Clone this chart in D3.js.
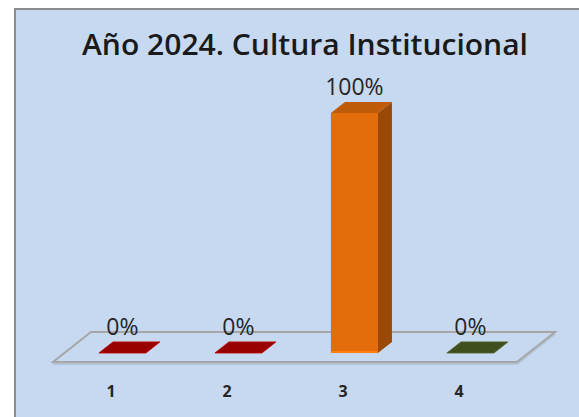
<!DOCTYPE html>
<html>
<head>
<meta charset="utf-8">
<script src="https://cdn.jsdelivr.net/npm/d3@7"></script>
<style>
  body { margin: 0; background: #ffffff; }
  svg { display: block; }
</style>
</head>
<body>
<script>
// datos del grafico
var categorias = ["1", "2", "3", "4"];
var valores = [0, 0, 100, 0];
var etiquetas = ["0%", "0%", "100%", "0%"];
var colores = ["#990000", "#990000", "#e46c0a", "#3f4f1d"];
var titulo = "Año 2024. Cultura Institucional";

var width = 579, height = 417;

var svg = d3.select("body").append("svg")
    .attr("width", width).attr("height", height);

// fondo y borde
svg.append("rect").attr("x", 14).attr("y", 8)
    .attr("width", width - 14).attr("height", height - 8)
    .attr("fill", "#c6d9f0");
svg.append("path").attr("d", "M15,417 V9 H579")
    .attr("fill", "none").attr("stroke", "#8c8c8c").attr("stroke-width", 2);

// titulo
svg.append("text").attr("x", 305).attr("y", 55)
    .attr("text-anchor", "middle")
    .attr("font-family", "Open Sans, sans-serif").attr("font-weight", 600)
    .attr("font-size", 29).attr("fill", "#1a1a1a")
    .attr("textLength", 446).attr("lengthAdjust", "spacingAndGlyphs")
    .text(titulo);

// escalas
var floorY = 362;
var depthX = 38, depthY = -30;

var x = d3.scaleBand().domain(categorias).range([53, 517]);
var y = d3.scaleLinear().domain([0, 100]).range([floorY, 122]);

// posicion en profundidad de las barras
var dFront = 0.3, dBack = 0.67;
var barW = 47;

// piso
var floor = svg.append("g");
floor.append("path")
    .attr("d", "M" + x.range()[0] + "," + (floorY + 2) + " H" + x.range()[1] +
        " L" + (x.range()[1] + depthX) + "," + (floorY + depthY + 2))
    .attr("fill", "none").attr("stroke", "#b4c3d6").attr("stroke-width", 2);
floor.append("path")
    .attr("d", "M" + x.range()[0] + "," + floorY +
        " L" + (x.range()[0] + depthX) + "," + (floorY + depthY) +
        " H" + (x.range()[1] + depthX) +
        " L" + x.range()[1] + "," + floorY + " Z")
    .attr("fill", "none").attr("stroke", "#a6a6a6").attr("stroke-width", 2);

// barras 3d
var bars = svg.append("g").selectAll("g").data(valores).enter().append("g");

bars.each(function(v, i) {
  var g = d3.select(this);
  var cx = x(categorias[i]) + x.bandwidth() / 2;
  var fx0 = cx - barW / 2 + depthX * dFront;
  var fx1 = fx0 + barW;
  var fyB = floorY + depthY * dFront;
  var ddx = depthX * (dBack - dFront), ddy = depthY * (dBack - dFront);
  var fyT = y(v) + depthY * dFront;
  var col = d3.color(colores[i]);

  if (v > 0) {
    // cara frontal
    g.append("rect").attr("x", fx0).attr("y", fyT)
        .attr("width", barW).attr("height", fyB - fyT).attr("fill", col);
    g.append("line").attr("x1", fx0).attr("x2", fx1).attr("y1", fyB - 1).attr("y2", fyB - 1)
        .attr("stroke", col.brighter(0.4)).attr("stroke-width", 2);
    // lado
    g.append("path")
        .attr("d", "M" + fx1 + "," + fyT + " L" + (fx1 + ddx) + "," + (fyT + ddy) +
            " L" + (fx1 + ddx) + "," + (fyB + ddy) + " L" + fx1 + "," + fyB + " Z")
        .attr("fill", col.darker(1.1));
  }
  // tapa
  g.append("path")
      .attr("d", "M" + fx0 + "," + fyT + " L" + (fx0 + ddx) + "," + (fyT + ddy) +
          " L" + (fx1 + ddx) + "," + (fyT + ddy) + " L" + fx1 + "," + fyT + " Z")
      .attr("fill", v > 0 ? col.darker(0.5) : col)
      .attr("stroke", v > 0 ? "none" : col.brighter(0.6)).attr("stroke-width", 0.8);

  // etiqueta de valor
  g.append("text").attr("x", cx + depthX * dFront).attr("y", fyT - 18)
      .attr("text-anchor", "middle")
      .attr("font-family", "Open Sans, sans-serif").attr("font-size", 23)
      .attr("fill", "#262626")
      .text(etiquetas[i]);
});

// etiquetas del eje x
svg.append("g").selectAll("text").data(categorias).enter().append("text")
    .attr("x", function(d) { return x(d) + x.bandwidth() / 2; })
    .attr("y", 397)
    .attr("text-anchor", "middle")
    .attr("font-family", "Open Sans, sans-serif").attr("font-weight", "bold")
    .attr("font-size", 16).attr("fill", "#262626")
    .text(function(d) { return d; });
</script>
</body>
</html>
